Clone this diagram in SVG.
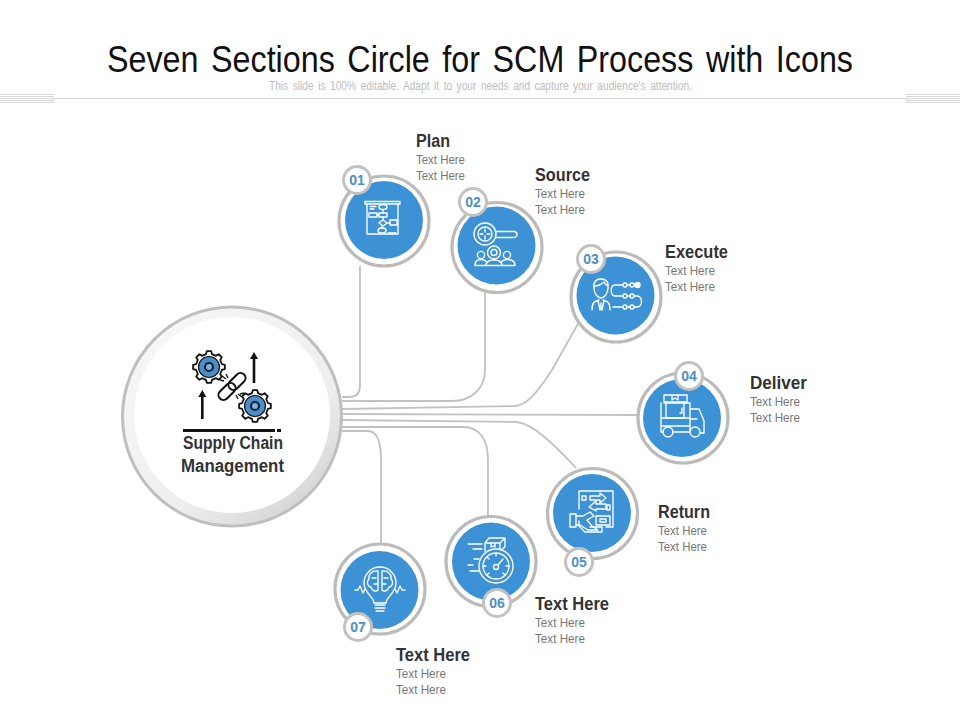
<svg xmlns="http://www.w3.org/2000/svg" width="960" height="720" viewBox="0 0 960 720">
<style>
text{font-family:"Liberation Sans",Arial,sans-serif}
.h{font-size:18px;font-weight:700;fill:#333}
.t{font-size:13px;fill:#777}
.n{font-size:14px;font-weight:700;fill:#4e90c4;text-anchor:middle}
.ring{fill:#fff;stroke:#bdbbb9;stroke-width:3.2}
.blue{fill:#3d92d6}
.badge{fill:#fff;stroke:#c4c2c0;stroke-width:3}
.ic{fill:none;stroke:#fff;stroke-width:1.35;stroke-linecap:round;stroke-linejoin:round}
.conn{fill:none;stroke:#c2c2c2;stroke-width:1.8}
.rule{stroke:#d8d8d8;stroke-width:1;fill:none}
.gear{fill:#fff;stroke:#111;stroke-width:1.8;stroke-linejoin:round}
</style>
<defs>
<linearGradient id="shade" x1="0.15" y1="0.1" x2="0.85" y2="0.95"><stop offset="0" stop-color="#f6f6f6"/><stop offset="0.65" stop-color="#eeeeee"/><stop offset="1" stop-color="#d2d2d2"/></linearGradient>
<path id="gearShape" class="gear" d="M12.86-2.97L15.84-2.23 15.84 2.23 12.86 2.97 11.19 7 12.78 9.63 9.63 12.78 7 11.19 2.97 12.86 2.23 15.84-2.23 15.84-2.97 12.86-7 11.19-9.63 12.78-12.78 9.63-11.19 7-12.86 2.97-15.84 2.23-15.84-2.23-12.86-2.97-11.19-7-12.78-9.63-9.63-12.78-7-11.19-2.97-12.86-2.23-15.84 2.23-15.84 2.97-12.86 7-11.19 9.63-12.78 12.78-9.63 11.19-7Z"/>
<g id="gearFull"><use href="#gearShape"/><circle r="10.5" fill="#4d8dc8" stroke="#111" stroke-width="1.2"/><circle r="4" fill="#7fb2dd" stroke="#10243c" stroke-width="2.2"/></g>
</defs>

<g id="header">
<text x="107" y="72" font-size="36" fill="#111" word-spacing="4" textLength="746" lengthAdjust="spacingAndGlyphs">Seven Sections Circle for SCM Process with Icons</text>
<text x="269" y="90" font-size="12" fill="#bdbdbd" word-spacing="2" textLength="423" lengthAdjust="spacingAndGlyphs">This slide is 100% editable. Adapt it to your needs and capture your audience's attention.</text>
<line class="rule" x1="54" y1="98.5" x2="906" y2="98.5"/>
<path class="rule" d="M0 94.5H54M0 96.5H54M0 98.5H54M0 100.5H54M0 102.5H54M906 94.5H960M906 96.5H960M906 98.5H960M906 100.5H960M906 102.5H960"/>
</g>

<g id="connectors">
<path class="conn" d="M342 397H350Q360 397 360 385V266"/>
<path class="conn" d="M342 401H452C472 401 485 388 485 370V292"/>
<path class="conn" d="M342 409L515 406C526 405 535 396 552 370L579 322"/>
<path class="conn" d="M342 414L638 415"/>
<path class="conn" d="M342 420L517 422C532 424 550 440 576 468"/>
<path class="conn" d="M342 427H463C480 427 488 440 488 460V517"/>
<path class="conn" d="M342 431H368C377 431 381 440 381 460V544"/>
</g>

<g id="center">
<circle cx="232" cy="416.5" r="109.5" fill="url(#shade)" stroke="#bfbfbf" stroke-width="3"/>
<circle cx="232" cy="415" r="98" fill="#fff"/>
<use href="#gearFull" x="209" y="367"/>
<use href="#gearFull" x="255" y="406"/>
<g fill="none" stroke="#111" stroke-width="2">
<rect x="-5" y="-10" width="10" height="20" rx="5" transform="translate(237 381.5) rotate(45)"/>
<rect x="-5" y="-10" width="10" height="20" rx="5" transform="translate(227 391.5) rotate(45)"/>
<path d="M222 376l4 3M226 374l2 4M220 380l4 1M242 397l-4-3M238 399l-2-4M244 393l-4 1" stroke-width="1.3"/>
</g>
<g fill="#111">
<rect x="201" y="395" width="2.6" height="24"/><path d="M202.3 390l4 7h-8z"/>
<rect x="252.7" y="356" width="2.6" height="27"/><path d="M254 352l4 7h-8z"/>
<rect x="183" y="429" width="92" height="3"/><rect x="277" y="429" width="4" height="3"/>
</g>
<text class="h" x="183" y="449" textLength="100" lengthAdjust="spacingAndGlyphs">Supply Chain</text>
<text class="h" x="181" y="472" textLength="103" lengthAdjust="spacingAndGlyphs">Management</text>
</g>

<g id="node-01">
<circle class="ring" cx="384" cy="221" r="45"/><circle class="blue" cx="384" cy="220" r="39"/>
<g class="ic">
<rect x="365" y="201.5" width="35" height="2.5"/><path d="M367 204V234H398V204"/>
<path d="M370 206.5H376M370 209H374M383 209.5V213M377 215H379M383 217V220M387 223H390M382 226.5V228M388 233H396"/>
<ellipse cx="383" cy="207" rx="4" ry="2.5"/><rect x="379" y="213" width="8" height="4"/><rect x="369" y="213" width="8" height="4"/>
<path d="M383 220l4 3-4 3-4-3z"/><rect x="390" y="220" width="7" height="5"/><ellipse cx="382" cy="230.5" rx="4" ry="2.5"/>
</g>
<circle class="badge" cx="357" cy="180" r="13.5"/><text class="n" x="357" y="185">01</text>
<text class="h" x="416" y="147" textLength="34" lengthAdjust="spacingAndGlyphs">Plan</text>
<text class="t" x="416" y="164" textLength="49" lengthAdjust="spacingAndGlyphs">Text Here</text>
<text class="t" x="416" y="180" textLength="49" lengthAdjust="spacingAndGlyphs">Text Here</text>
</g>

<g id="node-02">
<circle class="ring" cx="497" cy="247.5" r="45"/><circle class="blue" cx="496.5" cy="245.5" r="39"/>
<g class="ic">
<circle cx="485" cy="234" r="11"/><circle cx="485" cy="234" r="7"/><path d="M485 229V232M485 236V239M480 234H483M487 234H490"/>
<path d="M496 231.5H514a2.7 2.7 0 0 1 0 6H496"/>
<circle cx="494" cy="252.5" r="6.5"/><circle cx="494" cy="252.5" r="3"/>
<circle cx="481" cy="255" r="3.6"/><circle cx="507" cy="255" r="3.6"/>
<path d="M475 265.5C475 261 478 259.5 481 259.5S486 261 487 263M515 265.5C515 261 511 259.5 507 259.5S502 261 501 263M486 265.5C486 262 489 260 494 260S502 262 502 265.5M475 265.5H515"/>
</g>
<circle class="badge" cx="473" cy="202" r="13.5"/><text class="n" x="473" y="207">02</text>
<text class="h" x="535" y="181" textLength="55" lengthAdjust="spacingAndGlyphs">Source</text>
<text class="t" x="535" y="198" textLength="50" lengthAdjust="spacingAndGlyphs">Text Here</text>
<text class="t" x="535" y="214" textLength="50" lengthAdjust="spacingAndGlyphs">Text Here</text>
</g>

<g id="node-03">
<circle class="ring" cx="616" cy="297" r="45"/><circle class="blue" cx="615.5" cy="295.5" r="39"/>
<g class="ic">
<path d="M594 288C593 282 596 279 601 279S609 282 608 288C608 294 604 298 601 298S594 294 594 288ZM594 286C599 286 602 284 604 282C605 284 606 285 608 286"/>
<path d="M592 310C592 303 594 301 599 300M610 310C610 303 608 301 603 300M598 300L600 310M604 300L602 310M601 303V309"/>
<path d="M622 285H615C610 285 610 296 615 296H622M628 296H630M628 285H630M634 296H637C643 296 643 307 637 307H634M628 307H630M622 307H613"/>
<circle cx="625" cy="285" r="2"/><circle cx="632" cy="285" r="2"/><circle cx="625" cy="296" r="2"/><circle cx="632" cy="296" r="2"/><circle cx="625" cy="307" r="2"/><circle cx="632" cy="307" r="2"/>
<circle cx="637.5" cy="285" r="2.5" fill="#fff"/>
</g>
<circle class="badge" cx="591" cy="259" r="13.5"/><text class="n" x="591" y="264">03</text>
<text class="h" x="665" y="258" textLength="63" lengthAdjust="spacingAndGlyphs">Execute</text>
<text class="t" x="665" y="275" textLength="50" lengthAdjust="spacingAndGlyphs">Text Here</text>
<text class="t" x="665" y="291" textLength="50" lengthAdjust="spacingAndGlyphs">Text Here</text>
</g>

<g id="node-04">
<circle class="ring" cx="683" cy="418" r="45"/><circle class="blue" cx="682" cy="418" r="39"/>
<g class="ic">
<rect x="664" y="395" width="23" height="7"/><path d="M666 402V418H684V402M672 395V400L675 398 678 400V395M680 413H682V408"/>
<path d="M661 403V432H663M673 432H690M661 418H690M661 426H690M690 403V432M664 403H690M690 409H699L704 421V433H700M691 419H697"/>
<circle cx="668" cy="432" r="5"/><circle cx="695" cy="432" r="5"/>
</g>
<circle class="badge" cx="689" cy="376" r="13.5"/><text class="n" x="689" y="381">04</text>
<text class="h" x="750" y="389" textLength="57" lengthAdjust="spacingAndGlyphs">Deliver</text>
<text class="t" x="750" y="406" textLength="50" lengthAdjust="spacingAndGlyphs">Text Here</text>
<text class="t" x="750" y="422" textLength="50" lengthAdjust="spacingAndGlyphs">Text Here</text>
</g>

<g id="node-05">
<circle class="ring" cx="592.5" cy="513.5" r="45"/><circle class="blue" cx="592" cy="513" r="39"/>
<g class="ic">
<path d="M579 509V491H613V527H606M579 521V526L585 532H602V527H590"/>
<rect x="582" y="496" width="4" height="4"/><path d="M590 496H600V493L606 498 600 503V500H590Z"/>
<path d="M606 504H596V501L589 507 596 511V509H606Z"/><rect x="607" y="505" width="3" height="5"/>
<rect x="596" y="516" width="14" height="9"/><rect x="600" y="519" width="6" height="3"/>
<rect x="570" y="514" width="6" height="13"/><path d="M576 516H583L590 512 594 516 587 520 592 526 598 530H588L580 525H576"/>
</g>
<circle class="badge" cx="579" cy="562" r="13.5"/><text class="n" x="579" y="567">05</text>
<text class="h" x="658" y="518" textLength="52" lengthAdjust="spacingAndGlyphs">Return</text>
<text class="t" x="658" y="535" textLength="49" lengthAdjust="spacingAndGlyphs">Text Here</text>
<text class="t" x="658" y="551" textLength="49" lengthAdjust="spacingAndGlyphs">Text Here</text>
</g>

<g id="node-06">
<circle class="ring" cx="491" cy="561.5" r="45"/><circle class="blue" cx="491" cy="561.5" r="39"/>
<g class="ic">
<path d="M485 543H500V549M485 543V551M485 543L489 538H505L500 543M505 538V547L501 550M491 543V547L493 546 495 547V543"/>
<circle cx="496" cy="566" r="17"/><circle cx="496" cy="566" r="13"/><circle cx="496" cy="567" r="2.5"/>
<path d="M498 565L503 559M496 553V556M509 566H506M483 566H486M487 557L489 559M487 575L489 573M505 575L503 573"/>
<path d="M468 544H482M473 549H482M468 565H473M470 571H479M474 559H479"/>
</g>
<circle class="badge" cx="497" cy="603" r="13.5"/><text class="n" x="497" y="608">06</text>
<text class="h" x="535" y="610" textLength="74" lengthAdjust="spacingAndGlyphs">Text Here</text>
<text class="t" x="535" y="627" textLength="50" lengthAdjust="spacingAndGlyphs">Text Here</text>
<text class="t" x="535" y="643" textLength="50" lengthAdjust="spacingAndGlyphs">Text Here</text>
</g>

<g id="node-07">
<circle class="ring" cx="380" cy="589" r="45"/><circle class="blue" cx="379.5" cy="590" r="39"/>
<g class="ic">
<path d="M374 603C374 597 364 593 364 583A16 16 0 0 1 396 583C396 593 386 597 386 603Z"/>
<path d="M375 605H385M375 608H385M376 611H384"/>
<path d="M378 571C372 570 368 575 369 579C366 582 368 587 371 587C372 591 376 592 378 590ZM382 571C388 570 392 575 391 579C394 582 392 587 389 587C388 591 384 592 382 590ZM378 571V590M382 571V590M372 578H376M388 578H384M374 584H378M386 584H382"/>
<path d="M355 590H358L360 586 363 593 365 589M405 590H402L400 586 397 593 395 589"/>
</g>
<circle class="badge" cx="358" cy="627" r="13.5"/><text class="n" x="358" y="632">07</text>
<text class="h" x="396" y="661" textLength="74" lengthAdjust="spacingAndGlyphs">Text Here</text>
<text class="t" x="396" y="678" textLength="50" lengthAdjust="spacingAndGlyphs">Text Here</text>
<text class="t" x="396" y="694" textLength="50" lengthAdjust="spacingAndGlyphs">Text Here</text>
</g>
</svg>
